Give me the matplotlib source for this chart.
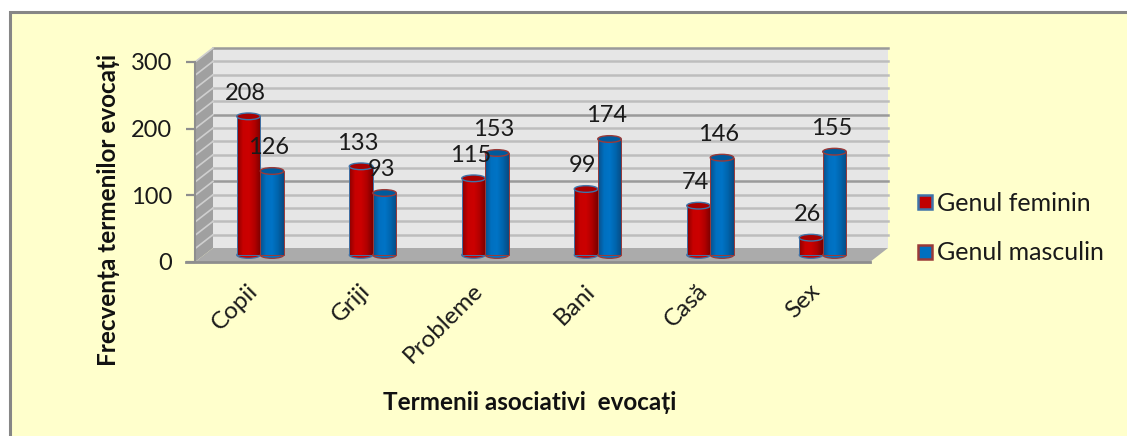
import numpy as np
import matplotlib
matplotlib.use('Agg')
import matplotlib.pyplot as plt
from matplotlib.colors import LinearSegmentedColormap
from matplotlib.lines import Line2D
from matplotlib.patches import Ellipse, Polygon, Rectangle

# Datele graficului
categories = ['Copii', 'Griji', 'Probleme', 'Bani', 'Casă', 'Sex']
feminin = [208, 133, 115, 99, 74, 26]
masculin = [126, 93, 153, 174, 146, 155]
major_ticks = [0, 100, 200, 300]
minor_lines = [20, 40, 60, 80, 120, 140, 160, 180, 220, 240, 260, 280]

plt.rcParams['font.family'] = ['Lato', 'DejaVu Sans']
W, H = 1127, 436
fig = plt.figure(figsize=(W / 100, H / 100), dpi=100, facecolor='white')

# fundalul graficului + chenarul gri
fig.add_artist(Rectangle((9.5 / W, -0.05), 1.2, 1 - 11.5 / H + 0.05, transform=fig.transFigure,
                         facecolor='#FFFFCC', edgecolor='#868686', linewidth=2.2, zorder=-1))

ax = fig.add_axes([195 / W, 1 - 262 / H, 675 / W, 200 / H])
ax.patch.set_visible(False)
for s in ax.spines.values():
    s.set_visible(False)

DX, DY = 18 / 112.5, 21  # adancimea 3D in unitati de date
TOP = major_ticks[-1]
N = len(categories)

# peretii
ax.add_patch(Polygon([(DX, DY), (N + DX, DY), (N + DX, TOP + DY), (DX, TOP + DY)], facecolor='#E6E6E6',
                     edgecolor='none', zorder=1, clip_on=False))
ax.add_patch(Polygon([(0, 0), (DX, DY), (DX, TOP + DY), (0, TOP)], facecolor='#A0A0A0',
                     edgecolor='none', zorder=1, clip_on=False))
ax.add_patch(Polygon([(0, 0), (N, 0), (N + DX, DY), (DX, DY)], facecolor='#ABABAB',
                     edgecolor='none', zorder=1.5, clip_on=False))
for v in minor_lines:
    ax.plot([DX, N + DX], [v + DY, v + DY], color='#BDBDBD', lw=1.8, zorder=1.2, clip_on=False)
    ax.plot([0, DX], [v, v + DY], color='#CFCFCF', lw=1.2, zorder=1.2, clip_on=False)
for v in major_ticks[1:]:
    ax.plot([DX, N + DX], [v + DY, v + DY], color='#9A9A9A', lw=1.8, zorder=1.2, clip_on=False)
    ax.plot([0, DX], [v, v + DY], color='#CFCFCF', lw=1.2, zorder=1.2, clip_on=False)
ax.plot([-0.08, N], [0, 0], color='#8E8E8E', lw=2, zorder=1.6, clip_on=False)
ax.plot([0, 0], [0, TOP], color='#8E8E8E', lw=1.5, zorder=1.6, clip_on=False)

red_cmap = LinearSegmentedColormap.from_list('r', ['#8A0000', '#C80000', '#CC0000', '#B00000', '#7A0000'])
blue_cmap = LinearSegmentedColormap.from_list('b', ['#0A4E88', '#0070C0', '#0074C6', '#0064AC', '#0A4A80'])
gradient = np.linspace(0, 1, 64).reshape(1, -1)
BW = 23.5 / 112.5
BASE = 10.5
ELL = 10


def cylinder(x, val, cmap, top_color, edge, z):
    ax.add_patch(Ellipse((x, BASE), BW, ELL, facecolor=cmap(0.5), edgecolor=edge, lw=0.9, zorder=z))
    bar = ax.bar(x, val, BW, bottom=BASE, color='none', edgecolor=edge, lw=0.7, zorder=z + 0.2)[0]
    im = ax.imshow(gradient, cmap=cmap, extent=(x - BW / 2, x + BW / 2, BASE, BASE + val),
                   aspect='auto', zorder=z + 0.1)
    im.set_clip_path(bar)
    ax.add_patch(Ellipse((x, BASE + val), BW, ELL, facecolor=top_color, edgecolor=edge, lw=1.0, zorder=z + 0.3))


centers = np.arange(N) + 0.5 + DX / 2
for i in range(N):
    xr = centers[i] - BW / 2
    xb = centers[i] + BW / 2
    cylinder(xr, feminin[i], red_cmap, '#A80000', '#3F73A8', 2 + i * 0.01)
    cylinder(xb, masculin[i], blue_cmap, '#005A9C', '#9A3A38', 3 + i * 0.01)
    for x, v in ((xr, feminin[i]), (xb, masculin[i])):
        ax.annotate(str(v), (x, BASE + v), xytext=(-3 * 0.72, 23 * 0.72), textcoords='offset points',
                    ha='center', va='center', fontsize=17, color='#1A1A1A', zorder=6)

ax.set_xlim(0, N)
ax.set_ylim(0, TOP)
ax.set_yticks(major_ticks)
ax.tick_params(axis='y', length=6.5, width=1.6, color='#8E8E8E', labelsize=17, labelcolor='#1A1A1A', pad=10)
ax.set_xticks(np.arange(N) + 0.46)
ax.set_xticklabels(categories, rotation=45, ha='right', rotation_mode='anchor', fontsize=17.5, color='#1A1A1A')
ax.tick_params(axis='x', length=0, pad=13)

fig.text(530 / W, 1 - 402 / H, 'Termenii asociativi  evocați', ha='center', va='center',
         fontsize=17.5, fontweight='bold', color='#111111')
fig.text(109 / W, 1 - 210 / H, 'Frecvența termenilor evocați', ha='center', va='center', rotation=90,
         fontsize=17.5, fontweight='bold', color='#111111')

handles = [Line2D([], [], ls='none', marker='s', ms=10.5, mfc='#C00000', mec='#3F73A8', mew=1.8),
           Line2D([], [], ls='none', marker='s', ms=10.5, mfc='#0070C0', mec='#9A3A38', mew=1.8)]
fig.legend(handles, ['Genul feminin', 'Genul masculin'], loc='center left',
           bbox_to_anchor=(907 / W, 1 - 228 / H), frameon=False, fontsize=18, labelcolor='#1A1A1A',
           labelspacing=1.08, handletextpad=-0.2, borderpad=0, borderaxespad=0, handlelength=1.4)

fig.savefig('out.png', dpi=100, facecolor=fig.get_facecolor())
